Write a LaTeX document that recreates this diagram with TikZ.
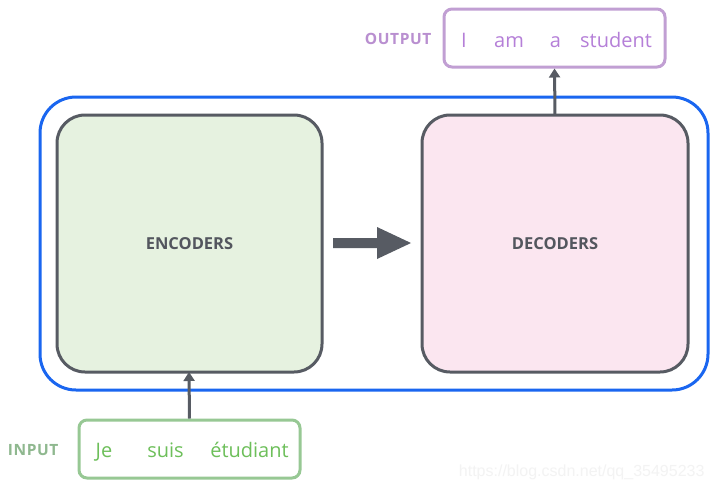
\documentclass[tikz,border=0pt]{standalone}
\usepackage{fontspec}
\setmainfont{Open Sans}
\newfontfamily\spaced[LetterSpace=4]{Open Sans}
\newfontfamily\wmfont{Liberation Sans}
\usetikzlibrary{arrows.meta}
\definecolor{outerblue}{HTML}{1A66F0}
\definecolor{boxgray}{HTML}{575B63}
\definecolor{encfill}{HTML}{E6F2E0}
\definecolor{decfill}{HTML}{FBE6F0}
\definecolor{outline}{HTML}{C19FD3}
\definecolor{outtext}{HTML}{B57FD8}
\definecolor{outlabel}{HTML}{B98FD0}
\definecolor{inline}{HTML}{97C894}
\definecolor{intext}{HTML}{6DBF5A}
\definecolor{inlabel}{HTML}{8FB88F}
\definecolor{wm}{HTML}{F3F3F3}
\tikzset{
  coder/.style={draw=boxgray, line width=3pt, rounded corners=28pt},
  seqbox/.style={line width=3pt, rounded corners=8pt, fill=white},
  codertext/.style={font=\fontsize{16.5}{19}\selectfont\bfseries, text=boxgray!95!black},
  word/.style={font=\fontsize{20}{23}\selectfont, anchor=base},
  lbl/.style={font=\fontsize{15.5}{18}\selectfont\spaced\bfseries},
  conn/.style={draw=boxgray, line width=3pt, -{Triangle[length=9pt,width=11pt]}}
}
\begin{document}
\begin{tikzpicture}[x=1pt,y=-1pt]
\useasboundingbox[fill=white] (0,0) rectangle (717,491);
% outer
\draw[outerblue, line width=3pt, rounded corners=36pt] (40,97) rectangle (708,390);
% encoders/decoders
\draw[coder, fill=encfill] (57,115) rectangle (322,372);
\draw[coder, fill=decfill] (422,115) rectangle (688,372);
\node[codertext] (enc) at (189.5,243.5) {ENCODERS};
\node[codertext] (dec) at (555,243.5) {DECODERS};
\coordinate (encT) at (189,372);
\coordinate (decT) at (555,115);
% big arrow
\fill[boxgray] (333,238) -- (377,238) -- (377,227) -- (411,243) -- (377,259) -- (377,248) -- (333,248) -- cycle;
% output
\node[seqbox, draw=outline, minimum width=221pt, minimum height=58pt] (out) at (554.5,38) {};
\node[lbl, text=outlabel, anchor=east] (outl) at (435,39) {OUTPUT};
\node[word, text=outtext] (w1) at (464,47) {I};
\node[word, text=outtext] (w2) at (509,47) {am};
\node[word, text=outtext] (w3) at (555.5,47) {a};
\node[word, text=outtext] (w4) at (616,47) {student};
% input
\node[seqbox, draw=inline, minimum width=221pt, minimum height=58pt] (inp) at (189.5,449) {};
\node[lbl, text=inlabel, anchor=east] (inl) at (62,450) {INPUT};
\node[word, text=intext] (v1) at (104,457) {Je};
\node[word, text=intext] (v2) at (165.5,457) {suis};
\node[word, text=intext] (v3) at (249.5,457) {étudiant};
% connectors
\draw[conn] (inp.north) -- (encT);
\draw[conn] (decT) -- (out.south);
% watermark
\node[font=\fontsize{16}{18}\selectfont\wmfont, text=wm, anchor=east] (wmk) at (708,472) {https://blog.csdn.net/qq\_35495233};
\end{tikzpicture}
\end{document}
